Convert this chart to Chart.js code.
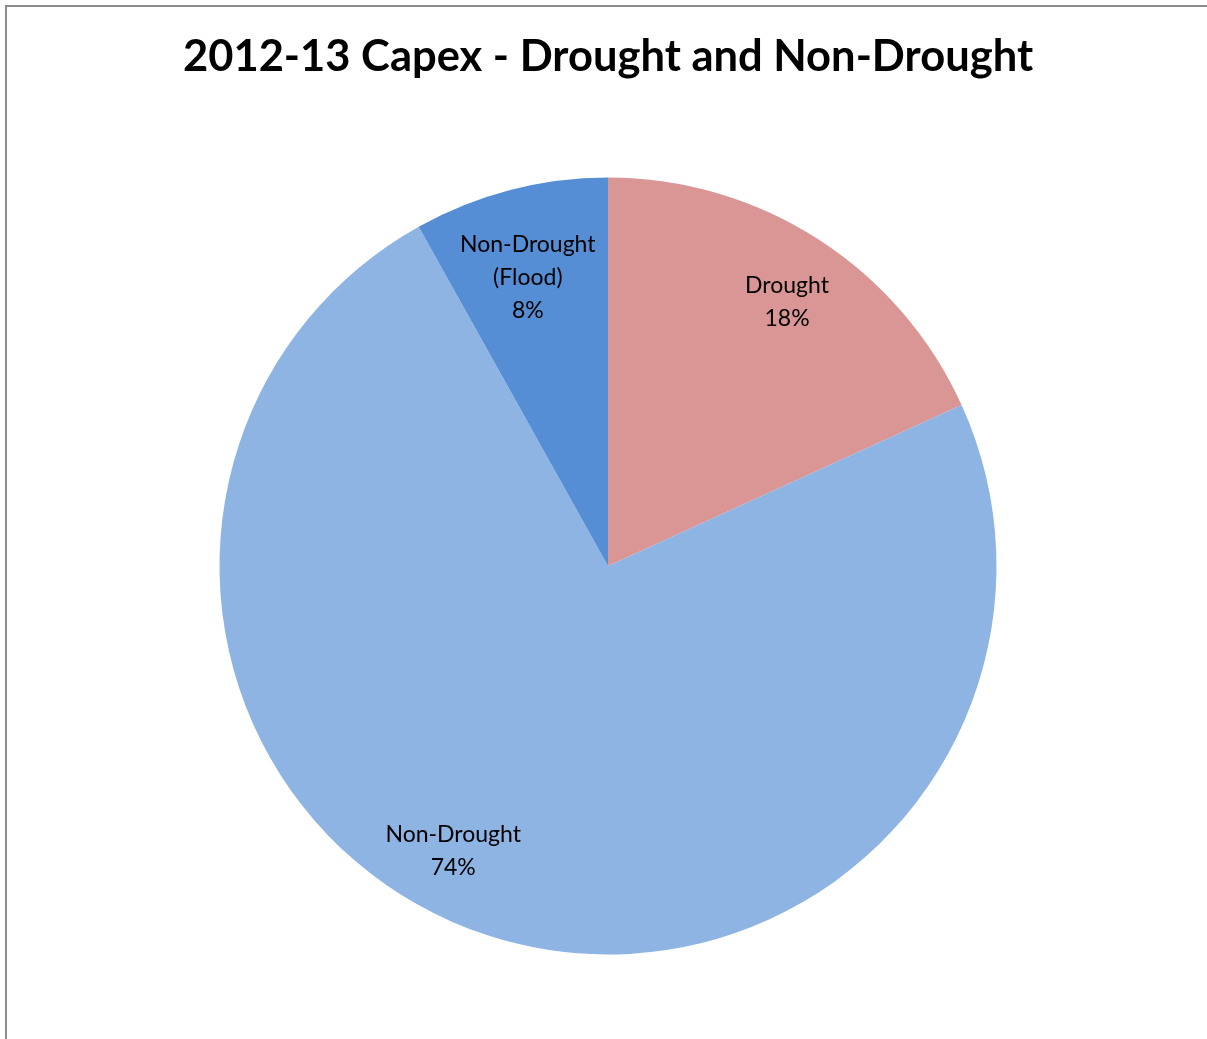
<!DOCTYPE html>
<html>
<head>
<meta charset="utf-8">
<script src="https://cdn.jsdelivr.net/npm/chart.js@4/dist/chart.umd.min.js"></script>
<style>
  html, body { margin: 0; padding: 0; background: #fff; overflow: hidden; }
  #wrap { width: 1207px; height: 1039px; position: relative; }
</style>
</head>
<body>
<div id="wrap"><canvas id="c" width="1207" height="1039"></canvas></div>
<script>
const chartTitle = "2012-13 Capex - Drought and Non-Drought";
const categories = ["Drought", "Non-Drought", "Non-Drought (Flood)"];
const labelLines = [["Drought", "18%"], ["Non-Drought", "74%"], ["Non-Drought", "(Flood)", "8%"]];
const values = [18.2, 73.7, 8.1];
const colors = ["#D99694", "#8EB4E3", "#558ED5"];

// label placement: fraction of radius and angular shift (radians) per slice
const labelPlacement = [
  { r: 0.82, shift: 0.025 },
  { r: 0.835, shift: 0.18 },
  { r: 0.77, shift: -0.017 }
];

const frame = {
  id: 'frame',
  beforeDraw(chart) {
    const ctx = chart.ctx;
    ctx.save();
    ctx.fillStyle = '#fff';
    ctx.fillRect(0, 0, chart.width, chart.height);
    ctx.strokeStyle = '#8c8c8c';
    ctx.lineWidth = 2;
    ctx.strokeRect(6, 6, 1400, 1400);
    ctx.restore();
  }
};

const sliceLabels = {
  id: 'sliceLabels',
  afterDatasetsDraw(chart) {
    const ctx = chart.ctx;
    const meta = chart.getDatasetMeta(0);
    ctx.save();
    ctx.font = '23px Lato, "Open Sans", sans-serif';
    ctx.fillStyle = '#000';
    ctx.textAlign = 'center';
    ctx.textBaseline = 'middle';
    meta.data.forEach((arc, i) => {
      const p = arc.getProps(['x', 'y', 'startAngle', 'endAngle', 'outerRadius'], true);
      const a = (p.startAngle + p.endAngle) / 2 + labelPlacement[i].shift;
      const rr = p.outerRadius * labelPlacement[i].r;
      const cx = p.x + Math.cos(a) * rr;
      const cy = p.y + Math.sin(a) * rr;
      const lines = labelLines[i];
      const lh = 33;
      const y0 = cy - (lines.length - 1) * lh / 2;
      lines.forEach((t, k) => ctx.fillText(t, cx, y0 + k * lh));
    });
    ctx.restore();
  }
};

new Chart(document.getElementById('c'), {
  type: 'pie',
  data: {
    labels: categories,
    datasets: [{
      data: values,
      backgroundColor: colors,
      borderWidth: 0
    }]
  },
  options: {
    responsive: false,
    animation: false,
    events: [],
    layout: { padding: { top: 0, bottom: 84.5, left: 9, right: 0 } },
    plugins: {
      legend: { display: false },
      tooltip: { enabled: false },
      title: {
        display: true,
        text: chartTitle,
        color: '#000',
        font: { family: 'Lato, "Open Sans", sans-serif', size: 43.5, weight: 'bold', lineHeight: 1.2 },
        padding: { top: 31, bottom: 94.3 }
      }
    }
  },
  plugins: [frame, sliceLabels]
});
</script>
</body>
</html>
